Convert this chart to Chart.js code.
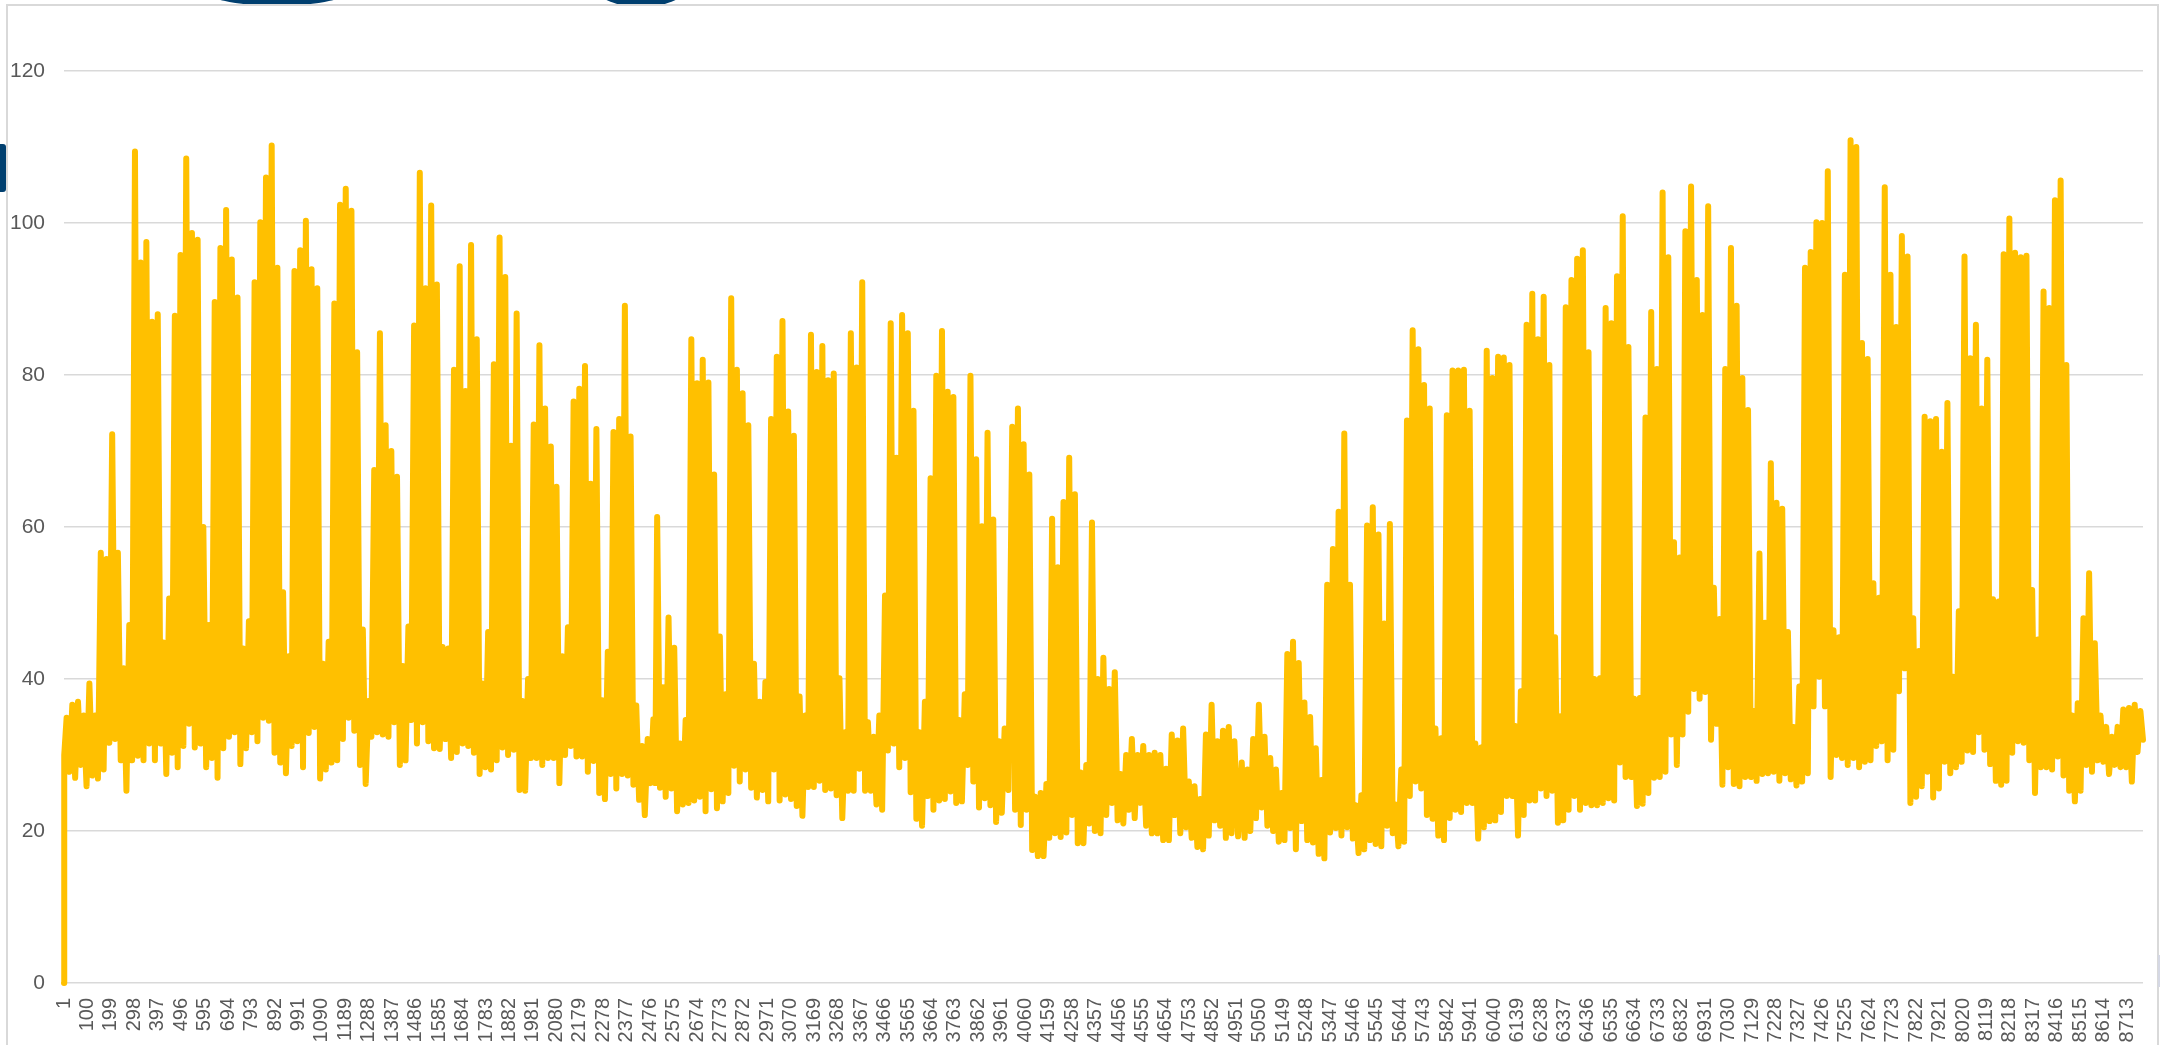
<!DOCTYPE html>
<html>
<head>
<meta charset="utf-8">
<title>Hourly series</title>
<script src="https://cdn.jsdelivr.net/npm/chart.js@4/dist/chart.umd.min.js"></script>
<style>
html,body{margin:0;padding:0;background:#fff;overflow:hidden}
#stage{position:relative;width:2174px;height:1045px;overflow:hidden}
#frame{position:absolute;left:6px;top:4px;width:2149px;height:1060px;border:2px solid #d9d9d9;box-sizing:content-box;background:#fff}
.blob{position:absolute;background:#003f6f}
#b1{left:202px;top:-29px;width:150px;height:35px;border-radius:50%}
#b2{left:597px;top:-30px;width:88px;height:37px;border-radius:50%}
#b3{left:-4px;top:144px;width:10px;height:48px;border-radius:3px}
#mark{position:absolute;left:2158px;top:955px;width:2px;height:32px;background:#d5d8e4}
canvas{position:absolute;left:0;top:0}
</style>
</head>
<body>
<div id="stage">
<div class="blob" id="b1"></div><div class="blob" id="b2"></div><div class="blob" id="b3"></div>
<div id="frame"></div><div id="mark"></div>
<canvas id="c" width="2174" height="1045"></canvas>
</div>
<script>
// Daily high of the hourly series (one per day of the year)
const dayPeaks = [
34.9,36.6,37,35.2,39.4,35.2,56.6,55.8,72.2,56.6,
41.4,47.1,109.4,94.8,97.5,87,88,44.8,50.6,87.8,
95.8,108.5,98.7,97.8,60,47.1,89.6,96.7,101.7,95.2,
90.2,44,47.6,92.2,100.1,106,110.2,94.1,51.4,43,
93.7,96.4,100.3,93.9,91.4,42,44.9,89.4,102.4,104.5,
101.6,83,46.5,37.1,67.5,85.5,73.4,70,66.6,41.7,
46.9,86.5,106.6,91.4,102.3,91.9,44.2,44,80.7,94.3,
77.9,97.1,84.7,39.4,46.2,81.4,98.1,92.9,70.7,88.1,
37.1,40,73.5,83.9,75.6,70.6,65.3,43,46.8,76.5,
78.2,81.2,65.7,72.9,37.2,43.6,72.5,74.2,89.1,71.9,
36.5,31.2,32.1,34.7,61.3,38.9,48.1,44.1,31.5,34.6,
84.7,78.9,82,79,66.9,45.6,38,90.1,80.7,77.6,
73.4,42,37,39.6,74.2,82.4,87.1,75.2,72,37.7,
35.2,85.3,80.4,83.8,79.3,80.2,40.1,33,85.5,81,
92.2,34.3,32.4,35.2,51,86.8,69.1,87.9,85.5,75.3,
33,37,66.4,79.9,85.8,77.8,77.1,34.6,38,79.9,
68.9,60.1,72.4,61,31.8,33.5,73.2,75.6,70.9,66.9,
24.5,25,26.2,61.1,54.7,63.3,69.1,64.3,27.7,28.7,
60.6,40,42.8,38.7,40.9,27.5,30,32.1,30,31.2,
30,30.3,30,28.2,32.7,31.9,33.5,26.5,25.9,24.2,
32.7,36.6,31.8,33.2,33.7,31.8,29,28.1,32.1,36.6,
32.4,29.6,28.1,25,43.3,44.9,42.1,36.9,35,30.9,
26.7,52.4,57.1,62,72.3,52.4,23.4,24.7,60.2,62.6,
59,47.3,60.4,23.5,28.1,74,85.9,83.4,78.7,75.6,
33.5,32.2,74.7,80.6,80.6,80.7,75.3,31.5,31,83.2,
79.6,82.4,82.3,81.3,33.8,38.4,86.6,90.7,84.7,90.3,
81.3,45.5,35.1,88.9,92.5,95.3,96.4,83,40,40.1,
88.8,86.8,93,100.9,83.7,37.4,37.5,74.4,88.3,80.8,
104,95.5,58,56,98.9,104.8,92.5,87.9,102.2,52,
47.9,80.8,96.7,89.1,79.6,75.4,35.8,56.5,47.4,68.4,
63.2,62.4,46.2,33.7,39,94.1,96.2,100.1,100,106.8,
46.4,45.5,93.2,110.9,110,84.2,82.1,52.6,50.7,104.7,
93.2,86.3,98.3,95.6,48,43.7,74.5,73.9,74.2,69.9,
76.3,40.3,48.9,95.6,82.2,86.6,75.6,82,50.5,50.2,
95.9,100.6,96.1,95.5,95.7,51.7,45.2,91,88.8,103,
105.6,81.3,35.2,36.8,48,53.9,44.7,35.2,33.7,32.4,
33.7,36,36.2,36.6,35.8];

// Trough just before each daily high
const dayLows = [
30,27.8,27,28.7,25.9,27.3,26.9,28.1,31.6,32.1,
29.3,25.3,29.3,29.9,29.3,31.5,29.3,31.5,27.5,30.3,
28.4,31.2,34.1,31,31.5,28.4,29.6,27,30.9,32.4,
33,28.8,30.9,33,31.8,34.9,34.5,30.3,29,27.6,
31.2,31.8,28.4,32.9,33.7,26.9,28.1,29,29.3,32.1,
34.9,33.2,28.7,26.2,32.4,33,32.7,32.4,34.3,28.7,
29.3,34.6,31.5,34.3,31.8,30.9,30.8,32.1,29.6,30.4,
31.5,31.2,30.3,27.5,28.4,28.1,29.3,31,30,30.7,
25.4,25.3,29.6,29.6,28.7,29.6,29.6,26.3,30,31.2,
29.8,29.8,27.8,29.2,25,24.2,27.5,25.6,27.5,27.3,
26.1,24.1,22.1,26.3,26.3,25.7,24.5,25.6,22.6,23.5,
23.7,24,24.5,22.6,25.5,23,23.9,25,28.6,26.5,
28.1,25.7,24.4,25.4,23.9,28.1,24,24.8,24.2,23.3,
22,25.8,25.8,26.6,25.4,25.6,24.7,21.7,25.3,25.3,
28.2,25.3,25.3,23.5,22.8,30.6,31.5,28.4,29.6,25.1,
21.6,20.7,24.6,22.8,24,24.2,25.2,23.7,23.9,28.7,
26.5,23.1,24.3,23.4,21.2,22.4,25.4,22.8,20.8,22.8,
17.5,16.7,16.7,19.1,19.7,19.2,19.8,22.1,18.4,18.4,
21,20,19.7,22.1,23.7,21.4,21,22.8,21.7,23.7,
20.7,19.7,19.7,18.8,18.8,22.1,19.7,20.5,19.1,17.9,
17.6,19.4,21.4,20.7,19.1,19.7,19.3,19.1,20,21.7,
23.1,20.7,20,18.6,18.8,20.4,17.6,21.3,18.8,18.5,
17,16.4,19.8,20.4,19.4,20.5,19,17.1,17.6,18.8,
18.3,18,20.7,19.7,18,18.6,24.6,26.5,25.6,22.1,
21.6,19.4,18.8,21.7,22.8,22.5,23.7,23.7,19,20.5,
21.3,21.4,22.5,24.6,24.6,19.4,22.1,24,24,25.6,
24.6,25.3,21.1,21.4,22.8,24.6,22.8,23.7,23.4,23.4,
23.7,24.3,24,29,27.1,27.1,23.3,23.6,25,27,
27.1,27.8,32.7,28.7,32.7,35.7,38.7,37.4,38.3,32,
34.1,26.1,28.4,26.2,25.9,27.1,27.1,26.6,27.5,27.6,
27.8,26.6,27.6,26.8,26,26.5,27.6,36.4,40.3,36.4,
27.1,30,29.6,28.7,29.6,28.4,29.1,29.3,31.2,31.8,
29.3,30.7,38.4,41.4,23.7,24.5,25.9,27.8,24.4,25.6,
29.1,27.6,28.4,29.1,30.6,30.4,33,30.7,28.8,26.6,
26.1,26.6,30.3,31.8,31.6,29.3,25,28.4,28.4,28.1,
29.8,27.3,25.3,23.9,25.3,28.7,27.8,29.3,29.1,27.5,
28.7,28.4,28.4,26.5,30.4];

const firstHourValue = 0;
const lastHourValue = 32;
// Hour of day at which the daily high falls, as read per stretch of the year
const peakHourFromDay = [0, 104, 166, 206, 263, 340];
const peakHourOfDay   = [12, 4, 12, 19, 16, 13];

const tickLabels = [1,100,199,298,397,496,595,694,793,892,991,1090,1189,1288,1387,1486,1585,1684,1783,1882,1981,2080,2179,2278,2377,2476,2575,2674,2773,2872,2971,3070,3169,3268,3367,3466,3565,3664,3763,3862,3961,4060,4159,4258,4357,4456,4555,4654,4753,4852,4951,5050,5149,5248,5347,5446,5545,5644,5743,5842,5941,6040,6139,6238,6337,6436,6535,6634,6733,6832,6931,7030,7129,7228,7327,7426,7525,7624,7723,7822,7921,8020,8119,8218,8317,8416,8515,8614,8713];
const yTicks = [0,20,40,60,80,100,120];

function peakHour(d){
  let h = peakHourOfDay[0];
  peakHourFromDay.forEach((s,i)=>{ if(d>=s) h = peakHourOfDay[i]; });
  return 24*d + h;
}
const points = [{x:1, y:firstHourValue}];
dayPeaks.forEach((v,d)=>{
  const lowHour = d===0 ? 2 : (peakHour(d-1)+peakHour(d))/2;
  points.push({x:lowHour, y:dayLows[d]});
  points.push({x:peakHour(d), y:v});
});
points.push({x:8760, y:lastHourValue});

new Chart(document.getElementById('c'),{
  type:'line',
  data:{datasets:[{
    data:points, parsing:false, xAxisID:'x', yAxisID:'y',
    borderColor:'#FFC000', borderWidth:6, pointRadius:0, tension:0,
    borderCapStyle:'round', borderJoinStyle:'round', clip:false, spanGaps:true
  }]},
  options:{
    responsive:false, animation:false, devicePixelRatio:1,
    layout:{padding:{left:0,top:71,right:31,bottom:0}},
    plugins:{legend:{display:false},title:{display:false},tooltip:{enabled:false}},
    scales:{
      x:{type:'linear',min:1,max:8760,display:false},
      xLabels:{
        type:'linear',position:'bottom',axis:'x',min:1,max:8780,
        grid:{display:false},border:{display:false},
        afterBuildTicks:a=>{a.ticks=tickLabels.map(v=>({value:v}));},
        afterFit:a=>{a.height=62;},
        ticks:{autoSkip:false,minRotation:90,maxRotation:90,padding:7,color:'#595959',
          font:{family:'"Liberation Sans"',size:20},callback:v=>String(v)}
      },
      y:{
        min:0,max:120,
        afterBuildTicks:a=>{a.ticks=yTicks.map(v=>({value:v}));},
        afterFit:a=>{a.width=64;},
        border:{display:false},
        grid:{color:'#d9d9d9',lineWidth:1.6,drawTicks:false},
        ticks:{padding:19,color:'#595959',font:{family:'"Liberation Sans"',size:21}}
      }
    }
  }
});
</script>
</body>
</html>
